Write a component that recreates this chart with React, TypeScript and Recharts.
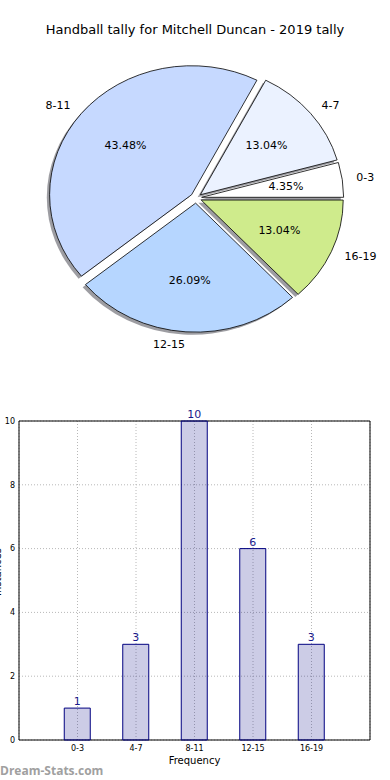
import React from "react";
import {
  PieChart,
  Pie,
  Cell,
  BarChart,
  Bar,
  XAxis,
  YAxis,
  CartesianGrid,
  LabelList,
  ReferenceArea,
} from "recharts";

const ageBands = ["0-3", "4-7", "8-11", "12-15", "16-19"];
const tallies = [1, 3, 10, 6, 3];
const sliceColors = ["#ffffff", "#ebf2ff", "#c6d9ff", "#b6d6ff", "#cfeb8c"];
const countTicks = [0, 2, 4, 6, 8, 10];

const FONT = "'DejaVu Sans', sans-serif";
const RAD = Math.PI / 180;
// matplotlib squashed the pie into an ellipse
const SQUASH = 129 / 142;
const EXPLODE = 0.04;

const explodeOffset = (r: number, mid: number) => ({
  ox: EXPLODE * r * Math.cos(mid * RAD),
  oy: -EXPLODE * r * SQUASH * Math.sin(mid * RAD),
});

const EllipseSlice = (props: any) => {
  const { cx, cy, outerRadius: r, startAngle, endAngle, fill } = props;
  const mid = (startAngle + endAngle) / 2;
  const { ox, oy } = explodeOffset(r, mid);
  const ax = cx + ox;
  const ay = cy + oy;
  const pt = (a: number) =>
    `${ax + r * Math.cos(a * RAD)},${ay - r * SQUASH * Math.sin(a * RAD)}`;
  const large = Math.abs(endAngle - startAngle) > 180 ? 1 : 0;
  const d = `M${ax},${ay} L${pt(startAngle)} A${r},${r * SQUASH} 0 ${large} 0 ${pt(endAngle)} Z`;
  return (
    <g>
      <path d={d} transform="translate(-2.8,2.6)" fill="#3c3c46" fillOpacity={0.5} />
      <path d={d} fill={fill} stroke="#000" strokeWidth={0.8} />
    </g>
  );
};

const renderPieLabel = (props: any) => {
  const { cx, cy, midAngle, outerRadius: r, percent, name } = props;
  const { ox, oy } = explodeOffset(r, midAngle);
  const c = Math.cos(midAngle * RAD);
  const s = Math.sin(midAngle * RAD);
  const nx = cx + ox + 1.1 * r * c;
  const ny = cy + oy - 1.1 * r * SQUASH * s;
  const px = cx + ox + 0.6 * r * c;
  const py = cy + oy - 0.6 * r * SQUASH * s;
  return (
    <g fontFamily={FONT} fontSize={11} fill="#000">
      <text x={nx} y={ny} textAnchor={c > 0 ? "start" : "end"} dominantBaseline="central">
        {name}
      </text>
      <text x={px} y={py} textAnchor="middle" dominantBaseline="central">
        {(percent * 100).toFixed(2)}%
      </text>
    </g>
  );
};

export default function App() {
  const pieData = ageBands.map((band, i) => ({ band, tally: tallies[i] }));
  const barData = ageBands.map((band, i) => ({ pos: i + 1, band, tally: tallies[i] }));

  return (
    <div
      style={{
        position: "absolute",
        left: 0,
        top: 0,
        width: 390,
        height: 780,
        background: "#fff",
        overflow: "hidden",
        fontFamily: FONT,
      }}
    >
      <div
        style={{
          position: "absolute",
          top: 22,
          left: 0,
          width: 390,
          textAlign: "center",
          fontSize: 13,
          color: "#000",
        }}
      >
        Handball tally for Mitchell Duncan - 2019 tally
      </div>

      {/* Pie */}
      <div style={{ position: "absolute", left: 0, top: 0 }}>
        <PieChart width={390} height={380} margin={{ top: 0, right: 0, bottom: 0, left: 0 }}>
          <Pie
            data={pieData}
            dataKey="tally"
            nameKey="band"
            cx={196}
            cy={198}
            outerRadius={142}
            startAngle={0}
            endAngle={360}
            shape={EllipseSlice}
            label={renderPieLabel}
            labelLine={false}
            isAnimationActive={false}
          >
            {pieData.map((entry, i) => (
              <Cell key={entry.band} fill={sliceColors[i]} />
            ))}
          </Pie>
        </PieChart>
      </div>

      {/* Bars */}
      <div style={{ position: "absolute", left: 0, top: 390 }}>
        <BarChart
          width={390}
          height={390}
          data={barData}
          margin={{ top: 31, right: 20, left: 0, bottom: 0 }}
        >
          <CartesianGrid stroke="#b8b8b8" strokeDasharray="1 2" />
          <XAxis
            dataKey="pos"
            type="number"
            domain={[0, 6]}
            ticks={[1, 2, 3, 4, 5]}
            tickFormatter={(v: number) => ageBands[v - 1]}
            height={40}
            axisLine={false}
            tickLine={false}
            tickSize={3}
            tick={{ fontSize: 8, fill: "#000", fontFamily: FONT }}
            label={{
              value: "Frequency",
              position: "insideBottom",
              offset: 16,
              fontSize: 10,
              fill: "#000",
              fontFamily: FONT,
            }}
          />
          <YAxis
            type="number"
            domain={[0, 10]}
            ticks={countTicks}
            width={19}
            axisLine={false}
            tickLine={false}
            tickSize={2}
            tick={{ fontSize: 8, fill: "#000", fontFamily: FONT }}
          />
          <Bar
            dataKey="tally"
            barSize={26}
            fill="#000080"
            fillOpacity={0.2}
            stroke="#000080"
            strokeWidth={1}
            isAnimationActive={false}
          >
            <LabelList
              dataKey="tally"
              position="top"
              offset={3}
              fill="#1a1a8c"
              fontSize={11}
              fontFamily={FONT}
            />
          </Bar>
          <ReferenceArea
            x1={0}
            x2={6}
            y1={0}
            y2={10}
            fill="none"
            stroke="#000"
            strokeWidth={1}
            ifOverflow="visible"
          />
        </BarChart>
      </div>

      {/* y-axis title, mostly cut off at the left edge as in the original */}
      <svg width={20} height={780} style={{ position: "absolute", left: 0, top: 0 }}>
        <text
          x={1}
          y={572}
          transform="rotate(-90 1 572)"
          textAnchor="middle"
          fontFamily={FONT}
          fontSize={10}
          fill="#000"
        >
          Instances
        </text>
      </svg>

      <div
        style={{
          position: "absolute",
          left: 0,
          top: 762,
          fontFamily: "'Open Sans', sans-serif",
          fontWeight: 700,
          fontSize: 12,
          color: "#a0a0a0",
        }}
      >
        Dream-Stats.com
      </div>
    </div>
  );
}
